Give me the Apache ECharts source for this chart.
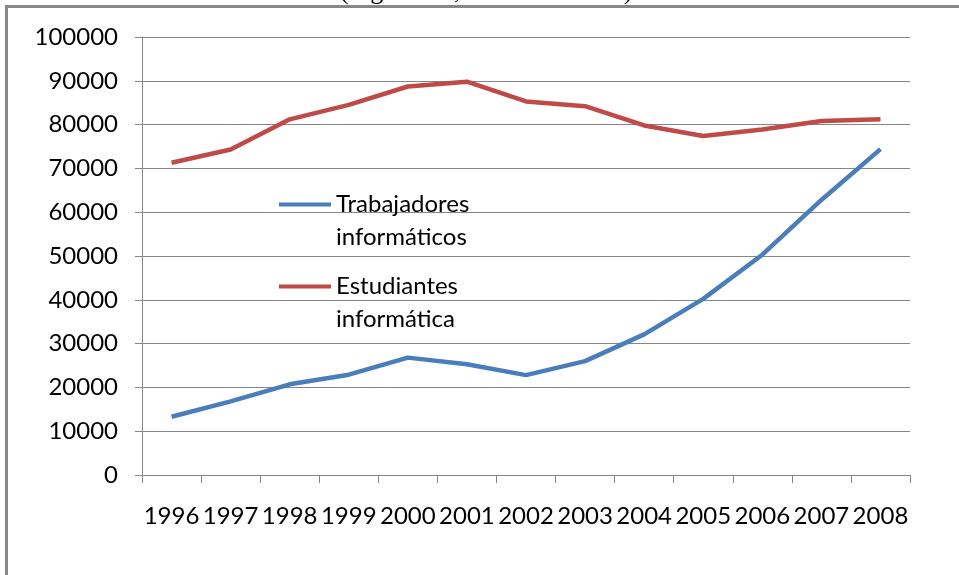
<!DOCTYPE html>
<html>
<head>
<meta charset="utf-8">
<script src="https://cdn.jsdelivr.net/npm/echarts@6/dist/echarts.min.js"></script>
<style>html,body{margin:0;padding:0;background:#fff}#c{width:959px;height:575px}</style>
</head>
<body>
<div id="c"></div>
<script>
var years = ['1996','1997','1998','1999','2000','2001','2002','2003','2004','2005','2006','2007','2008'];
var trabajadores = [13300, 16800, 20700, 22900, 26800, 25300, 22800, 26000, 32100, 40200, 50300, 62800, 74400];
var estudiantes = [71300, 74300, 81200, 84500, 88700, 89800, 85300, 84200, 79800, 77400, 78900, 80800, 81200];
var nameT = 'Trabajadores\ninformáticos';
var nameE = 'Estudiantes\ninformática';
var yMax = 100000, yStep = 10000;

var FONT = 'Lato';
var chart = echarts.init(document.getElementById('c'));
function legendCfg(name, top) {
  return {
    data: [name], left: 279, top: top, padding: 0, orient: 'vertical',
    icon: 'rect', itemWidth: 52, itemHeight: 4, itemGap: 0,
    formatter: function (n) { return '\n' + n; },
    textStyle: { fontFamily: FONT, fontSize: 24, color: '#000', lineHeight: 33 },
    selectedMode: false
  };
}
chart.setOption({
  animation: false,
  backgroundColor: '#fff',
  graphic: [
    { type: 'rect', shape: { x: 6.5, y: 6.5, width: 1200, height: 1200 }, style: { fill: 'none', stroke: '#878787', lineWidth: 3 }, silent: true, z: 10 },
    { type: 'text', left: 340, top: -21, style: { text: '(Ingeniería, año 1996-2008)', fontFamily: 'Liberation Serif', fontSize: 26, fill: '#000' }, silent: true }
  ],
  legend: [legendCfg(nameT, 155), legendCfg(nameE, 237)],
  grid: { left: 142, right: 49, top: 37, bottom: 100, containLabel: false },
  xAxis: {
    type: 'category', data: years, boundaryGap: true,
    axisLine: { lineStyle: { color: '#868686', width: 1 } },
    axisTick: { show: true, length: 8, alignWithLabel: false, lineStyle: { color: '#868686' } },
    axisLabel: { fontFamily: FONT, fontSize: 24, color: '#000', margin: 29, interval: 0 }
  },
  yAxis: {
    type: 'value', min: 0, max: yMax, interval: yStep,
    axisLine: { show: true, lineStyle: { color: '#868686', width: 1 } },
    axisTick: { show: true, length: 7, lineStyle: { color: '#868686' } },
    splitLine: { lineStyle: { color: '#868686', width: 1 } },
    axisLabel: { fontFamily: FONT, fontSize: 24, color: '#000', margin: 24, formatter: function (v) { return String(v); } }
  },
  series: [
    { name: nameT, type: 'line', data: trabajadores, showSymbol: false, symbol: 'none', lineStyle: { color: '#4A7EBB', width: 4.5 }, itemStyle: { color: '#4A7EBB' } },
    { name: nameE, type: 'line', data: estudiantes, showSymbol: false, symbol: 'none', lineStyle: { color: '#BE4B48', width: 4.5 }, itemStyle: { color: '#BE4B48' } }
  ]
});
</script>
</body>
</html>
